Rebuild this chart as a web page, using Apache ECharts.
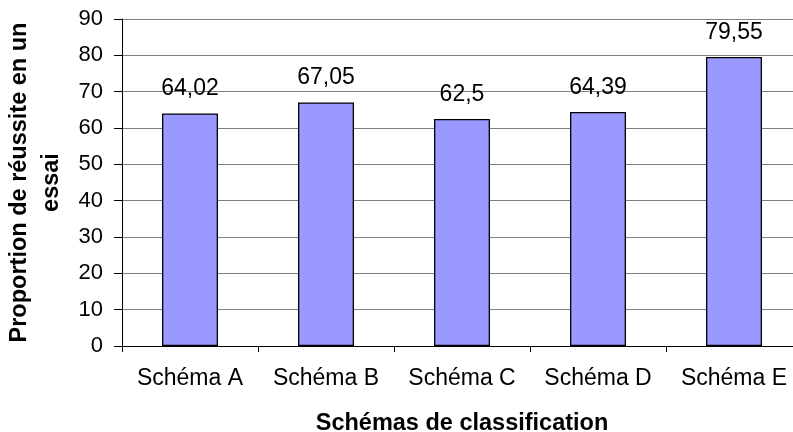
<!DOCTYPE html>
<html>
<head>
<meta charset="utf-8">
<script src="https://cdn.jsdelivr.net/npm/echarts@6/dist/echarts.min.js"></script>
<style>
  html, body { margin: 0; padding: 0; background: #ffffff; }
  #chart { width: 793px; height: 432px; }
</style>
</head>
<body>
<div id="chart"></div>
<script>
// Success rate per classification scheme
const categories = ['Schéma A', 'Schéma B', 'Schéma C', 'Schéma D', 'Schéma E'];
const successRates = [64.02, 67.05, 62.5, 64.39, 79.55];
const yTicks = [0, 10, 20, 30, 40, 50, 60, 70, 80, 90];

const FONT = '"Liberation Sans", Arial, Helvetica, sans-serif';

const chart = echarts.init(document.getElementById('chart'));

chart.setOption({
  animation: false,
  backgroundColor: '#ffffff',
  grid: {
    left: 122, top: 19, bottom: 86, width: 680,
    containLabel: false,
    outerBoundsMode: 'none'
  },
  xAxis: {
    type: 'category',
    data: categories,
    boundaryGap: true,
    axisLine: { show: true, lineStyle: { color: '#000000', width: 1 } },
    axisTick: { show: true, length: 6, lineStyle: { color: '#000000' } },
    axisLabel: { color: '#000000', fontFamily: FONT, fontSize: 23, margin: 21, interval: 0 },
    name: 'Schémas de classification',
    nameLocation: 'middle',
    nameGap: 66,
    nameTextStyle: { color: '#000000', fontFamily: FONT, fontSize: 23.5, fontWeight: 'bold' }
  },
  yAxis: {
    type: 'value',
    min: yTicks[0],
    max: yTicks[yTicks.length - 1],
    interval: yTicks[1] - yTicks[0],
    axisLine: { show: true, lineStyle: { color: '#000000', width: 1 } },
    axisTick: { show: true, length: 8, lineStyle: { color: '#000000' } },
    axisLabel: { color: '#000000', fontFamily: FONT, fontSize: 22, margin: 19 },
    splitLine: { show: true, lineStyle: { color: '#808080', width: 1 } },
    name: 'Proportion de réussite en un\nessai',
    nameLocation: 'middle',
    nameRotate: 90,
    nameGap: 52,
    nameTextStyle: {
      color: '#000000', fontFamily: FONT, fontSize: 23.5, fontWeight: 'bold',
      lineHeight: 32, align: 'center'
    }
  },
  series: [{
    type: 'bar',
    data: successRates,
    barWidth: 56,
    itemStyle: { color: '#9999FF', borderColor: '#000000', borderWidth: 1.3 },
    label: {
      show: true,
      position: 'top',
      distance: 13,
      color: '#000000',
      fontFamily: FONT,
      fontSize: 23,
      formatter: p => String(p.value).replace('.', ',')
    }
  }]
});
</script>
</body>
</html>
